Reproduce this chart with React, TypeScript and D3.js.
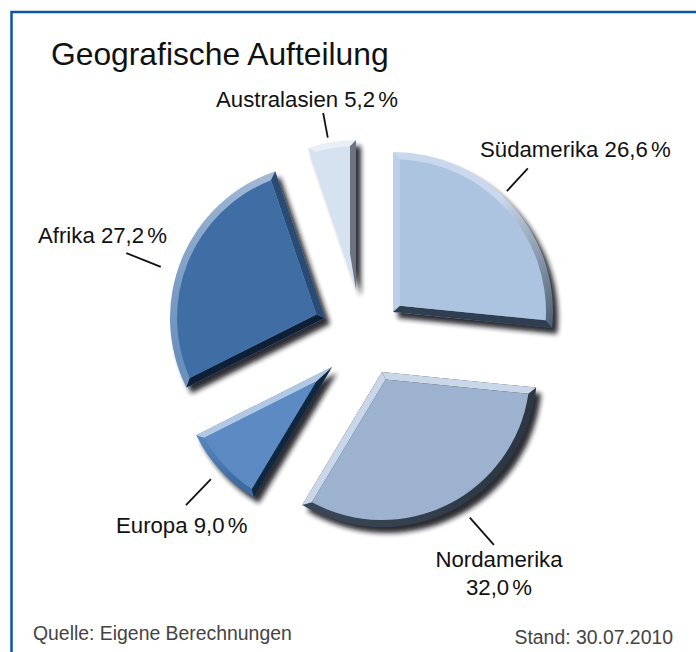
import React from 'react';
import * as d3 from 'd3';

const categories = ['Südamerika', 'Nordamerika', 'Europa', 'Afrika', 'Australasien'];
const shares = [26.6, 32.0, 9.0, 27.2, 5.2];
const shareLabels = ['26,6', '32,0', '9,0', '27,2', '5,2'];

const width = 696;
const height = 652;
const rad = Math.PI / 180;

// apex of each exploded slice, radius and bevel colours
const sliceStyles = [
  { x: 393, y: 312, r: 160, face: '#adc4e0', start: '#bdd0e7', end: '#2f3e50', arc0: '#c9d8ec', arc1: '#4d5f72', stop: 0.45, bevel: 7 },
  { x: 382, y: 372, r: 155, face: '#9db2cf', start: '#cad7e8', end: '#cad7e8', arc0: '#2d3845', arc1: '#3a4756', stop: 0.25, bevel: 7 },
  { x: 332, y: 367, r: 152, face: '#5c8bc3', start: '#11263f', end: '#b0c8e3', arc0: '#3f6ba0', arc1: '#5a88bd', stop: 0.25, bevel: 6 },
  { x: 325, y: 318, r: 155, face: '#3f6ea5', start: '#0d2038', end: '#294b75', arc0: '#6a90bc', arc1: '#a3bad5', stop: 0.1, bevel: 7 },
  { x: 356, y: 290, r: 150, face: '#d6e2f0', start: '#d6e2f0', end: '#6b7480', arc0: '#e8eff8', arc1: '#e8eff8', stop: 0.25, bevel: 6 },
];

// leader lines in polar form around the apex: angle, radius
const leaders = [
  [[43.3, 166], [43.2, 197]],
  [[148.9, 170], [147.1, 206]],
  [[227.2, 165], [226.6, 201]],
  [[287.3, 172], [288.1, 209]],
  [[349.5, 155], [349.5, 180]],
];

const labelStyles = [
  { x: 480, y: 157, anchor: 'start', twoLines: false },
  { x: 499, y: 567, anchor: 'middle', twoLines: true },
  { x: 116, y: 533, anchor: 'start', twoLines: false },
  { x: 38, y: 243, anchor: 'start', twoLines: false },
  { x: 216, y: 107, anchor: 'start', twoLines: false },
];

const polar = (x: number, y: number, angle: number, r: number): [number, number] => [
  x + r * Math.sin(angle),
  y - r * Math.cos(angle),
];

const sectorPath = (x: number, y: number, r: number, a0: number, a1: number) => {
  const p = d3.path();
  p.moveTo(x, y);
  p.lineTo(...polar(x, y, a0, r));
  p.arc(x, y, r, a0 - Math.PI / 2, a1 - Math.PI / 2);
  p.closePath();
  return p.toString();
};

const poly = (pts: [number, number][]) => d3.line()(pts) + 'Z';

const pie = d3.pie<number>().sort(null).value((d) => d);

const Slice = ({ arc, i }: { arc: d3.PieArcDatum<number>; i: number }) => {
  const s = sliceStyles[i];
  const { startAngle: a0, endAngle: a1 } = arc;
  const half = (a1 - a0) / 2;
  const mid = (a0 + a1) / 2;
  const ri = s.r - s.bevel;
  const delta = Math.asin(s.bevel / ri);
  const apex = polar(s.x, s.y, mid, s.bevel / Math.sin(half));
  const o0 = polar(s.x, s.y, a0, s.r);
  const o1 = polar(s.x, s.y, a1, s.r);
  const f0 = polar(s.x, s.y, a0 + delta, ri);
  const f1 = polar(s.x, s.y, a1 - delta, ri);

  const facePath = d3.path();
  facePath.moveTo(...apex);
  facePath.lineTo(...f0);
  facePath.arc(s.x, s.y, ri, a0 + delta - Math.PI / 2, a1 - delta - Math.PI / 2);
  facePath.closePath();

  return (
    <g>
      <defs>
        <linearGradient id={`arc${i}`} gradientUnits="userSpaceOnUse" x1={o0[0]} y1={o0[1]} x2={o1[0]} y2={o1[1]}>
          <stop offset={s.stop} stopColor={s.arc0} />
          <stop offset="1" stopColor={s.arc1} />
        </linearGradient>
      </defs>
      <path
        d={sectorPath(s.x, s.y, s.r, a0, a1)}
        transform="translate(5,6)"
        fill="#14181d"
        opacity={0.9}
        filter="url(#soft)"
      />
      <path d={sectorPath(s.x, s.y, s.r, a0, a1)} fill={`url(#arc${i})`} />
      <path d={poly([[s.x, s.y], o0, f0, apex])} fill={s.start} />
      <path d={poly([[s.x, s.y], o1, f1, apex])} fill={s.end} />
      <path d={facePath.toString()} fill={s.face} />
    </g>
  );
};

export default function App() {
  const arcs = pie(shares);
  return (
    <svg width={width} height={height} style={{ position: 'absolute', left: 0, top: 0, background: '#fff' }} fontFamily="'Liberation Sans', sans-serif">
      <defs>
        <filter id="soft" x="-20%" y="-20%" width="140%" height="140%">
          <feGaussianBlur stdDeviation="2.5" />
        </filter>
      </defs>
      <path d="M11.5,652V12H696" fill="none" stroke="#0b56a4" strokeWidth={2.5} />
      <text x={51} y={65} fontSize={31.8} fill="#111">Geografische Aufteilung</text>

      {arcs.map((arc, i) => <Slice key={categories[i]} arc={arc} i={i} />)}

      {leaders.map((l, i) => {
        const s = sliceStyles[i];
        const p0 = polar(s.x, s.y, l[0][0] * rad, l[0][1]);
        const p1 = polar(s.x, s.y, l[1][0] * rad, l[1][1]);
        return <line key={i} x1={p0[0]} y1={p0[1]} x2={p1[0]} y2={p1[1]} stroke="#111" strokeWidth={1.8} />;
      })}

      {categories.map((c, i) => {
        const l = labelStyles[i];
        return (
          <text key={c} x={l.x} y={l.y} textAnchor={l.anchor as 'start' | 'middle'} fontSize={22.2} fill="#111">
            {l.twoLines ? (
              <>
                <tspan x={l.x}>{c}</tspan>
                <tspan x={l.x} dy={28}>{shareLabels[i]} <tspan dx={-3}>%</tspan></tspan>
              </>
            ) : (
              <>{c} {shareLabels[i]} <tspan dx={-3}>%</tspan></>
            )}
          </text>
        );
      })}

      <text x={33} y={640} fontSize={19.4} fill="#444">Quelle: Eigene Berechnungen</text>
      <text x={673} y={644} textAnchor="end" fontSize={19.4} fill="#444">Stand: 30.07.2010</text>
    </svg>
  );
}
